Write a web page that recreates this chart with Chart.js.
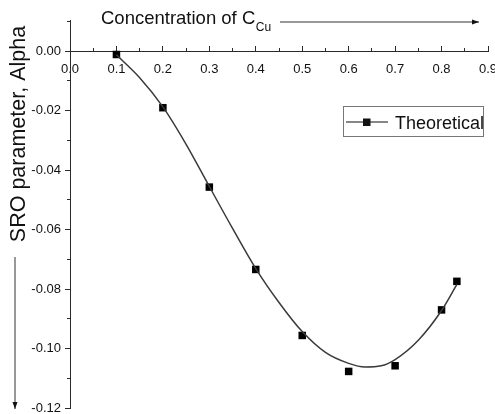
<!DOCTYPE html>
<html>
<head>
<meta charset="utf-8">
<title>SRO parameter</title>
<script src="https://cdn.jsdelivr.net/npm/chart.js@4.4.1/dist/chart.umd.min.js"></script>
<style>
  html, body { margin: 0; padding: 0; background: #fff; }
  canvas { display: block; }
</style>
</head>
<body>
<canvas id="chart" width="495" height="414"></canvas>
<script>
// measured points (squares)
const concX = [0.1, 0.2, 0.3, 0.4, 0.5, 0.6, 0.7, 0.8, 0.833];
const alphaY = [-0.0011, -0.0190, -0.0457, -0.0734, -0.0956, -0.1077, -0.1058, -0.0870, -0.0774];

// fitted curve
const fitX = [0.1, 0.15, 0.2, 0.25, 0.3, 0.35, 0.4, 0.45, 0.5, 0.55, 0.6, 0.635, 0.67, 0.7, 0.75, 0.8, 0.833];
const fitY = [-0.0012, -0.0089, -0.0187, -0.0313, -0.0455, -0.0596, -0.0731, -0.0845, -0.0943, -0.1013, -0.1050, -0.1062, -0.1058, -0.1037, -0.0972, -0.0872, -0.0784];

// axis ticks
const xMajorStep = 0.1, xMinorStep = 0.05;
const yMajorStep = 0.02, yMinorStep = 0.01;
const xMin = 0, xMax = 0.9;
const yMin = -0.12, yMax = 0.0105;

const FONT = "'Liberation Sans', Arial, sans-serif";
const AXIS = "#2a2a2a";

const noPad = (s) => { s.paddingLeft = 0; s.paddingRight = 0; s.paddingTop = 0; s.paddingBottom = 0; };

function arrow(ctx, x1, y1, x2, y2) {
  const a = Math.atan2(y2 - y1, x2 - x1);
  ctx.beginPath();
  ctx.moveTo(x1, y1);
  ctx.lineTo(x2, y2);
  ctx.stroke();
  ctx.beginPath();
  ctx.moveTo(x2, y2);
  ctx.lineTo(x2 - 7 * Math.cos(a) + 2.5 * Math.sin(a), y2 - 7 * Math.sin(a) - 2.5 * Math.cos(a));
  ctx.lineTo(x2 - 7 * Math.cos(a) - 2.5 * Math.sin(a), y2 - 7 * Math.sin(a) + 2.5 * Math.cos(a));
  ctx.closePath();
  ctx.fill();
}

// titles, arrows and the legend box
const decor = {
  id: "decor",
  afterDraw(chart) {
    const ctx = chart.ctx;
    ctx.save();
    ctx.fillStyle = "#111";
    ctx.strokeStyle = "#333";
    ctx.lineWidth = 1;

    // x title with subscript
    ctx.font = "18.5px " + FONT;
    ctx.textAlign = "left";
    ctx.textBaseline = "alphabetic";
    const t = "Concentration of C";
    ctx.fillText(t, 101, 24);
    const w = ctx.measureText(t).width;
    ctx.font = "12px " + FONT;
    ctx.fillText("Cu", 101 + w + 0.5, 31);
    arrow(ctx, 280, 22, 479, 22);

    // y title
    ctx.save();
    ctx.translate(25, 134);
    ctx.rotate(-Math.PI / 2);
    ctx.font = "21.5px " + FONT;
    ctx.textAlign = "center";
    ctx.fillText("SRO parameter, Alpha", 0, 0);
    ctx.restore();
    arrow(ctx, 15, 257, 15, 409);

    // legend
    ctx.strokeStyle = "#777";
    ctx.strokeRect(343.5, 106.5, 140, 30);
    ctx.strokeStyle = "#111";
    ctx.lineWidth = 1.2;
    ctx.beginPath();
    ctx.moveTo(346, 122);
    ctx.lineTo(388, 122);
    ctx.stroke();
    ctx.fillRect(363, 118.5, 7.5, 7.5);
    ctx.font = "18px " + FONT;
    ctx.textAlign = "left";
    ctx.fillText("Theoretical", 395, 128.5);
    ctx.restore();
  }
};

new Chart(document.getElementById("chart"), {
  type: "scatter",
  data: {
    datasets: [
      {
        label: "fit",
        data: fitX.map((x, i) => ({ x: x, y: fitY[i] })),
        showLine: true,
        borderColor: "#3a3a3a",
        borderWidth: 1.5,
        pointRadius: 0,
        cubicInterpolationMode: "monotone",
        fill: false
      },
      {
        label: "Theoretical",
        data: concX.map((x, i) => ({ x: x, y: alphaY[i] })),
        showLine: false,
        pointStyle: "rect",
        pointRadius: 5.3,
        backgroundColor: "#000",
        borderColor: "#000",
        borderWidth: 0
      }
    ]
  },
  options: {
    responsive: false,
    devicePixelRatio: 1,
    animation: false,
    layout: { padding: { left: 10, top: 20, right: 7, bottom: 6 } },
    plugins: { legend: { display: false }, tooltip: { enabled: false } },
    scales: {
      x: {
        type: "linear",
        position: { y: 0 },
        min: xMin, max: xMax,
        grid: { drawOnChartArea: false, tickLength: -6, color: AXIS, tickColor: AXIS },
        border: { display: true, color: AXIS, width: 1 },
        ticks: {
          stepSize: xMajorStep, autoSkip: false, maxRotation: 0, padding: 16,
          color: "#111", font: { family: FONT, size: 13 },
          callback: (v) => v.toFixed(1)
        },
        afterFit: noPad
      },
      x2: {
        type: "linear",
        axis: "x",
        position: { y: 0 },
        min: xMin, max: xMax,
        grid: { drawOnChartArea: false, tickLength: -3, tickColor: AXIS },
        border: { display: false },
        ticks: { stepSize: xMinorStep, display: false, autoSkip: false },
        afterFit: noPad
      },
      y: {
        type: "linear",
        position: "left",
        min: yMin, max: yMax,
        grid: { drawOnChartArea: false, tickLength: 5, tickColor: AXIS },
        border: { display: true, color: AXIS, width: 1 },
        ticks: {
          stepSize: yMajorStep, includeBounds: false, autoSkip: false, padding: 4,
          color: "#111", font: { family: FONT, size: 13 },
          callback: (v) => v.toFixed(2)
        },
        afterFit: (s) => { s.width = 60; noPad(s); }
      },
      y2: {
        type: "linear",
        axis: "y",
        position: { x: 0 },
        min: yMin, max: yMax,
        grid: { drawOnChartArea: false, tickLength: 3, tickColor: AXIS },
        border: { display: false },
        ticks: { stepSize: yMinorStep, includeBounds: false, display: false, autoSkip: false },
        afterFit: noPad
      }
    }
  },
  plugins: [decor]
});
</script>
</body>
</html>
